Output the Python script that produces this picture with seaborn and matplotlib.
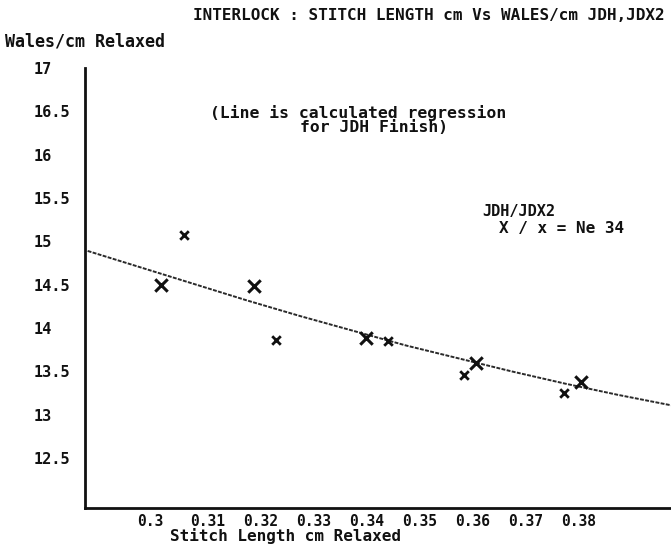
import matplotlib
matplotlib.use("Agg")
import matplotlib.pyplot as plt
import matplotlib.transforms as mtransforms
import pandas as pd
import seaborn as sns

# Measured points: JDH finish (large X) and JDX2 finish (small x), Ne 34 yarn
jdh_stitch = [0.3038, 0.3213, 0.3424, 0.3633, 0.3831]
jdh_wales = [14.50, 14.49, 13.89, 13.60, 13.38]
jdx2_stitch = [0.3081, 0.3256, 0.3467, 0.3610, 0.3798]
jdx2_wales = [15.07, 13.86, 13.85, 13.46, 13.25]

# Regression curve for the JDH finish
reg_stitch = [0.29, 0.30, 0.31, 0.32, 0.33, 0.34, 0.35, 0.36, 0.37, 0.38, 0.39, 0.40]
reg_wales = [14.89, 14.70, 14.51, 14.32, 14.14, 13.97, 13.80, 13.65, 13.50, 13.36, 13.23, 13.11]

x_ticks = [0.30, 0.31, 0.32, 0.33, 0.34, 0.35, 0.36, 0.37, 0.38]
x_tick_labels = ["0.3", "0.31", "0.32", "0.33", "0.34", "0.35", "0.36", "0.37", "0.38"]
y_ticks = [12.5, 13, 13.5, 14, 14.5, 15, 15.5, 16, 16.5, 17]
y_tick_labels = ["12.5", "13", "13.5", "14", "14.5", "15", "15.5", "16", "16.5", "17"]

sns.set_theme(style="white")
plt.rcParams["font.family"] = ["DejaVu Sans Mono", "DejaVu Sans"]
plt.rcParams["font.weight"] = "bold"

W, H = 671, 545
fig = plt.figure(figsize=(W / 100, H / 100), dpi=100)
ax = fig.add_axes([85 / W, 37 / H, (W - 85) / W, (508 - 68) / H])

ink = "#111111"

reg_df = pd.DataFrame({"stitch": reg_stitch, "wales": reg_wales})
sns.lineplot(data=reg_df, x="stitch", y="wales", ax=ax, color="#2a2a2a",
             linewidth=1.4, linestyle=(0, (2.0, 0.7)), sort=True)

jdh_df = pd.DataFrame({"stitch": jdh_stitch, "wales": jdh_wales})
jdx2_df = pd.DataFrame({"stitch": jdx2_stitch, "wales": jdx2_wales})
sns.scatterplot(data=jdh_df, x="stitch", y="wales", ax=ax, marker="x",
                s=80, color=ink, linewidth=2.2, zorder=3)
sns.scatterplot(data=jdx2_df, x="stitch", y="wales", ax=ax, marker="x",
                s=38, color=ink, linewidth=2.0, zorder=3)

ax.set_xlim(0.2895, 0.40)
ax.set_ylim(11.925, 17.0)

for side in ("top", "right"):
    ax.spines[side].set_visible(False)
for side in ("left", "bottom"):
    ax.spines[side].set_color(ink)
    ax.spines[side].set_linewidth(2.0)

ax.set_xticks(x_ticks)
ax.set_xticklabels(x_tick_labels, fontsize=10.5, fontweight="bold", color=ink)
ax.set_yticks(y_ticks)
ax.set_yticklabels(y_tick_labels, fontsize=11, fontweight="bold", color=ink)
ax.tick_params(axis="both", direction="in", length=5, width=2, color=ink)
ax.tick_params(axis="x", pad=4)
ax.tick_params(axis="y", pad=37)

shift = mtransforms.ScaledTranslation(-2.5 / 72, 0, fig.dpi_scale_trans)
for lab in ax.get_xticklabels():
    lab.set_horizontalalignment("left")
    lab.set_transform(lab.get_transform() + shift)
for lab in ax.get_yticklabels():
    lab.set_horizontalalignment("left")

ax.set_xlabel("Stitch Length cm Relaxed", fontsize=11.5, fontweight="bold",
              color=ink, ha="left", va="bottom")
ax.xaxis.set_label_coords((170 - 85) / (W - 85), (H - 544 - 37) / 440)
ax.set_ylabel("Wales/cm Relaxed", fontsize=12, fontweight="bold",
              color=ink, rotation=0, ha="left", va="center")
ax.yaxis.set_label_coords((5 - 85) / (W - 85), (H - 42 - 37) / 440)

fig.text(665 / W, 1 - 16 / H, "INTERLOCK : STITCH LENGTH cm Vs WALES/cm JDH,JDX2",
         ha="right", va="center", fontsize=11.5, fontweight="bold", color=ink)

fig.text(210 / W, 1 - 113 / H, "(Line is calculated regression",
         ha="left", va="center", fontsize=11.8, fontweight="bold", color=ink)
fig.text(300 / W, 1 - 128 / H, "for JDH Finish)",
         ha="left", va="center", fontsize=11.8, fontweight="bold", color=ink)

fig.text(482 / W, 1 - 211 / H, "JDH/JDX2",
         ha="left", va="center", fontsize=11, fontweight="bold", color=ink)
fig.text(499 / W, 1 - 228 / H, "X / x = Ne 34",
         ha="left", va="center", fontsize=11.5, fontweight="bold", color=ink)

fig.savefig("out.png", dpi=100, facecolor="white")
